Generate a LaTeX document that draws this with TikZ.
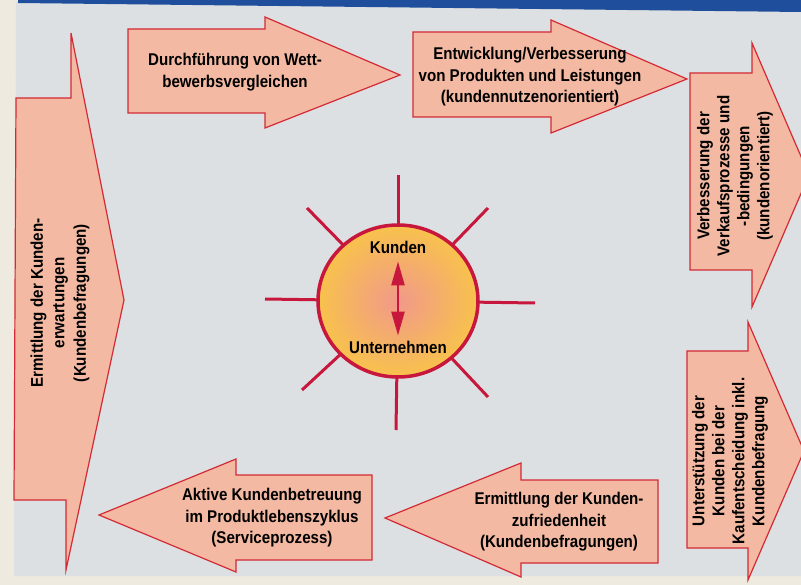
\documentclass[tikz,border=0pt]{standalone}
\usepackage{fontspec}
\setmainfont[FakeStretch=0.89]{Liberation Sans}
\usetikzlibrary{shapes.geometric,arrows.meta}
\definecolor{bggrey}{HTML}{DDE0E2}
\definecolor{cream}{HTML}{EFEAE0}
\definecolor{topblue}{HTML}{1F4E9C}
\definecolor{arrowfill}{HTML}{F3B9A2}
\definecolor{arrowline}{HTML}{D42A35}
\definecolor{sunred}{HTML}{C8173C}
\definecolor{suninner}{HTML}{F1998A}
\definecolor{sunouter}{HTML}{F8C24C}
\tikzset{
  bigarrow/.style={fill=arrowfill, draw=arrowline, line width=1.2pt, line join=miter},
  lbl/.style={font=\bfseries\fontsize{17}{21.5}\selectfont, align=center, text=black, inner sep=0pt},
  vlbl/.style={lbl, rotate=90, font=\bfseries\fontsize{17}{20}\selectfont},
  ray/.style={draw=sunred, line width=3pt},
}
\begin{document}
\begin{tikzpicture}[x=1pt,y=-1pt]
\useasboundingbox (0,0) rectangle (801,585);
\clip (0,0) rectangle (801,585);
% background
\fill[cream] (0,0) rectangle (801,585);
\fill[bggrey] (16,2) -- (801,2) -- (801,576) -- (14,576) -- cycle;
\fill[topblue] (18,0) -- (801,0) -- (801,12) -- (18,3) -- cycle;

% left arrow
\path[bigarrow] (16,98) -- (71,98) -- (71,33) -- (124,300) -- (66,570) -- (66,500) -- (14,500) -- cycle;
\node[lbl, rotate=90] (l1) at (60,303) {Ermittlung der Kunden-\\erwartungen\\(Kundenbefragungen)};

% top arrows
\path[bigarrow] (128,29) -- (265,29) -- (265,17) -- (400,75) -- (265,128) -- (265,113) -- (128,113) -- cycle;
\node[lbl] (t1) at (235,72) {Durchführung von Wett-\\bewerbsvergleichen};

\path[bigarrow] (413,32) -- (551,32) -- (551,20) -- (687,79) -- (551,133) -- (551,117) -- (413,117) -- cycle;
\node[lbl] (t2) at (530,77) {Entwicklung/Verbesserung\\von Produkten und Leistungen\\(kundennutzenorientiert)};

% right arrows
\path[bigarrow] (690,73) -- (752,73) -- (752,43) -- (809,175) -- (752,307) -- (752,270) -- (690,270) -- cycle;
\node[vlbl] (r1) at (735,176) {Verbesserung der\\Verkaufsprozesse und\\-bedingungen\\(kundenorientiert)};

\path[bigarrow] (687,351) -- (748,351) -- (748,322) -- (804,451) -- (748,580) -- (748,548) -- (687,548) -- cycle;
\node[vlbl] (r2) at (730,461) {Unterstützung der\\Kunden bei der\\Kaufentscheidung inkl.\\Kundenbefragung};

% bottom arrows
\path[bigarrow] (658,480) -- (521,480) -- (521,463) -- (385,518) -- (521,577) -- (521,563) -- (658,563) -- cycle;
\node[lbl] (b1) at (559,522) {Ermittlung der Kunden-\\zufriedenheit\\(Kundenbefragungen)};

\path[bigarrow] (372,475) -- (236,475) -- (236,459) -- (99,515) -- (236,572) -- (236,560) -- (372,560) -- cycle;
\node[lbl] (b2) at (272,518) {Aktive Kundenbetreuung\\im Produktlebenszyklus\\(Serviceprozess)};

% sun rays
\coordinate (rN) at (398,175);
\coordinate (rNE) at (488,208);
\coordinate (rE) at (535,303);
\coordinate (rSE) at (488,397);
\coordinate (rS) at (396,430);
\coordinate (rSW) at (302,390);
\coordinate (rW) at (265,299);
\coordinate (rNW) at (307,208);
\coordinate (sc) at (398,301);
\foreach \r in {rN,rNE,rE,rSE,rS,rSW,rW,rNW}{
  \draw[ray] (sc) -- (\r);
}
% sun
\node[ellipse, minimum width=160pt, minimum height=152pt, inner sep=0pt,
      draw=sunred, line width=3.5pt, inner color=suninner, outer color=sunouter] (sun) at (sc) {};
\node[lbl] (kunden) at (398,247) {Kunden};
\node[lbl] (unt) at (398,347) {Unternehmen};
\draw[draw=sunred, line width=2.5pt, {Triangle[length=24pt,width=13pt]}-{Triangle[length=24pt,width=13pt]}]
  (kunden.south) ++(0,8) coordinate (da) (unt.north) ++(0,-5) coordinate (db) (da) -- (db);
\end{tikzpicture}
\end{document}
